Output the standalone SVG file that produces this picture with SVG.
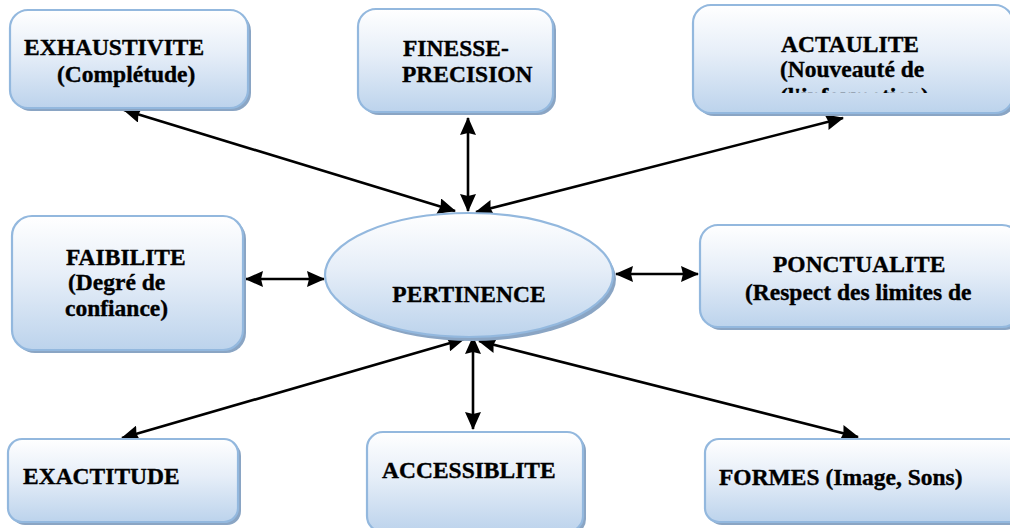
<svg xmlns="http://www.w3.org/2000/svg" width="1010" height="528" viewBox="0 0 1010 528">
  <defs>
    <linearGradient id="fillGrad" x1="0" y1="0" x2="0" y2="1">
      <stop offset="0" stop-color="#ffffff"/>
      <stop offset="0.45" stop-color="#e6eef8"/>
      <stop offset="1" stop-color="#bcd3ec"/>
    </linearGradient>
    <marker id="head" viewBox="0 0 18 16" refX="17" refY="8" markerWidth="18" markerHeight="16" markerUnits="userSpaceOnUse" orient="auto-start-reverse">
      <path d="M0,0 L18,8 L0,16 L2,8 Z" fill="#000"/>
    </marker>
    <clipPath id="clipActu">
      <rect x="700" y="80" width="300" height="13"/>
    </clipPath>
  </defs>
  <style>
    .shadow { fill: #8aa5c4; }
    .box { fill: url(#fillGrad); stroke: #93b8de; stroke-width: 2.2; }
    .lbl { font-family: "Liberation Serif", "Times New Roman", serif; font-weight: bold; font-size: 23.5px; fill: #000; stroke: #000; stroke-width: 0.35px; }
    .conn { stroke: #000; stroke-width: 2.6; fill: none; marker-start: url(#head); marker-end: url(#head); }
  </style>

  <rect width="1010" height="528" fill="#ffffff"/>

  <!-- connectors -->
  <g id="connectors">
    <line class="conn" x1="124" y1="110" x2="455" y2="211"/>
    <line class="conn" x1="468" y1="118" x2="468" y2="211"/>
    <line class="conn" x1="843" y1="118" x2="476" y2="212"/>
    <line class="conn" x1="246" y1="279" x2="324" y2="279"/>
    <line class="conn" x1="616" y1="274" x2="698" y2="274"/>
    <line class="conn" x1="122" y1="438" x2="464" y2="339"/>
    <line class="conn" x1="473" y1="337" x2="473" y2="429"/>
    <line class="conn" x1="479" y1="341" x2="858" y2="437"/>
  </g>

  <!-- nodes -->
  <g id="exhaustivite">
    <rect class="shadow" x="13" y="13" width="238" height="98" rx="18"/>
    <rect class="box" x="10" y="10" width="238" height="98" rx="18"/>
    <text class="lbl" x="24" y="55">EXHAUSTIVITE</text>
    <text class="lbl" x="57" y="82">(Complétude)</text>
  </g>

  <g id="finesse">
    <rect class="shadow" x="361" y="12" width="195" height="103" rx="18"/>
    <rect class="box" x="358" y="9" width="195" height="103" rx="18"/>
    <text class="lbl" x="403" y="56">FINESSE-</text>
    <text class="lbl" x="402" y="82">PRECISION</text>
  </g>

  <g id="actualite">
    <rect class="shadow" x="696" y="8" width="320" height="108" rx="18"/>
    <rect class="box" x="693" y="5" width="320" height="108" rx="18"/>
    <text class="lbl" x="781" y="52">ACTAULITE</text>
    <text class="lbl" x="780" y="77">(Nouveauté de</text>
    <text class="lbl" x="780" y="104" clip-path="url(#clipActu)">(l'information)</text>
  </g>

  <g id="faibilite">
    <rect class="shadow" x="15" y="219" width="231" height="134" rx="20"/>
    <rect class="box" x="12" y="216" width="231" height="134" rx="20"/>
    <text class="lbl" x="66" y="265">FAIBILITE</text>
    <text class="lbl" x="68" y="290">(Degré de</text>
    <text class="lbl" x="65" y="316">confiance)</text>
  </g>

  <g id="pertinence">
    <ellipse class="shadow" cx="472" cy="279" rx="144" ry="62"/>
    <ellipse class="box" cx="469" cy="275" rx="144" ry="62"/>
    <text class="lbl" x="469" y="302" text-anchor="middle">PERTINENCE</text>
  </g>

  <g id="ponctualite">
    <rect class="shadow" x="703" y="228" width="320" height="102" rx="18"/>
    <rect class="box" x="700" y="225" width="320" height="102" rx="18"/>
    <text class="lbl" x="773" y="272">PONCTUALITE</text>
    <text class="lbl" x="745" y="300">(Respect des limites de</text>
  </g>

  <g id="exactitude">
    <rect class="shadow" x="11" y="442" width="230" height="83" rx="14"/>
    <rect class="box" x="8" y="439" width="230" height="83" rx="14"/>
    <text class="lbl" x="23" y="484">EXACTITUDE</text>
  </g>

  <g id="accessiblite">
    <rect class="shadow" x="370" y="435" width="216" height="100" rx="16"/>
    <rect class="box" x="367" y="432" width="216" height="100" rx="16"/>
    <text class="lbl" x="382" y="478">ACCESSIBLITE</text>
  </g>

  <g id="formes">
    <rect class="shadow" x="708" y="442" width="320" height="83" rx="14"/>
    <rect class="box" x="705" y="439" width="320" height="83" rx="14"/>
    <text class="lbl" x="719" y="485">FORMES (Image, Sons)</text>
  </g>
</svg>
